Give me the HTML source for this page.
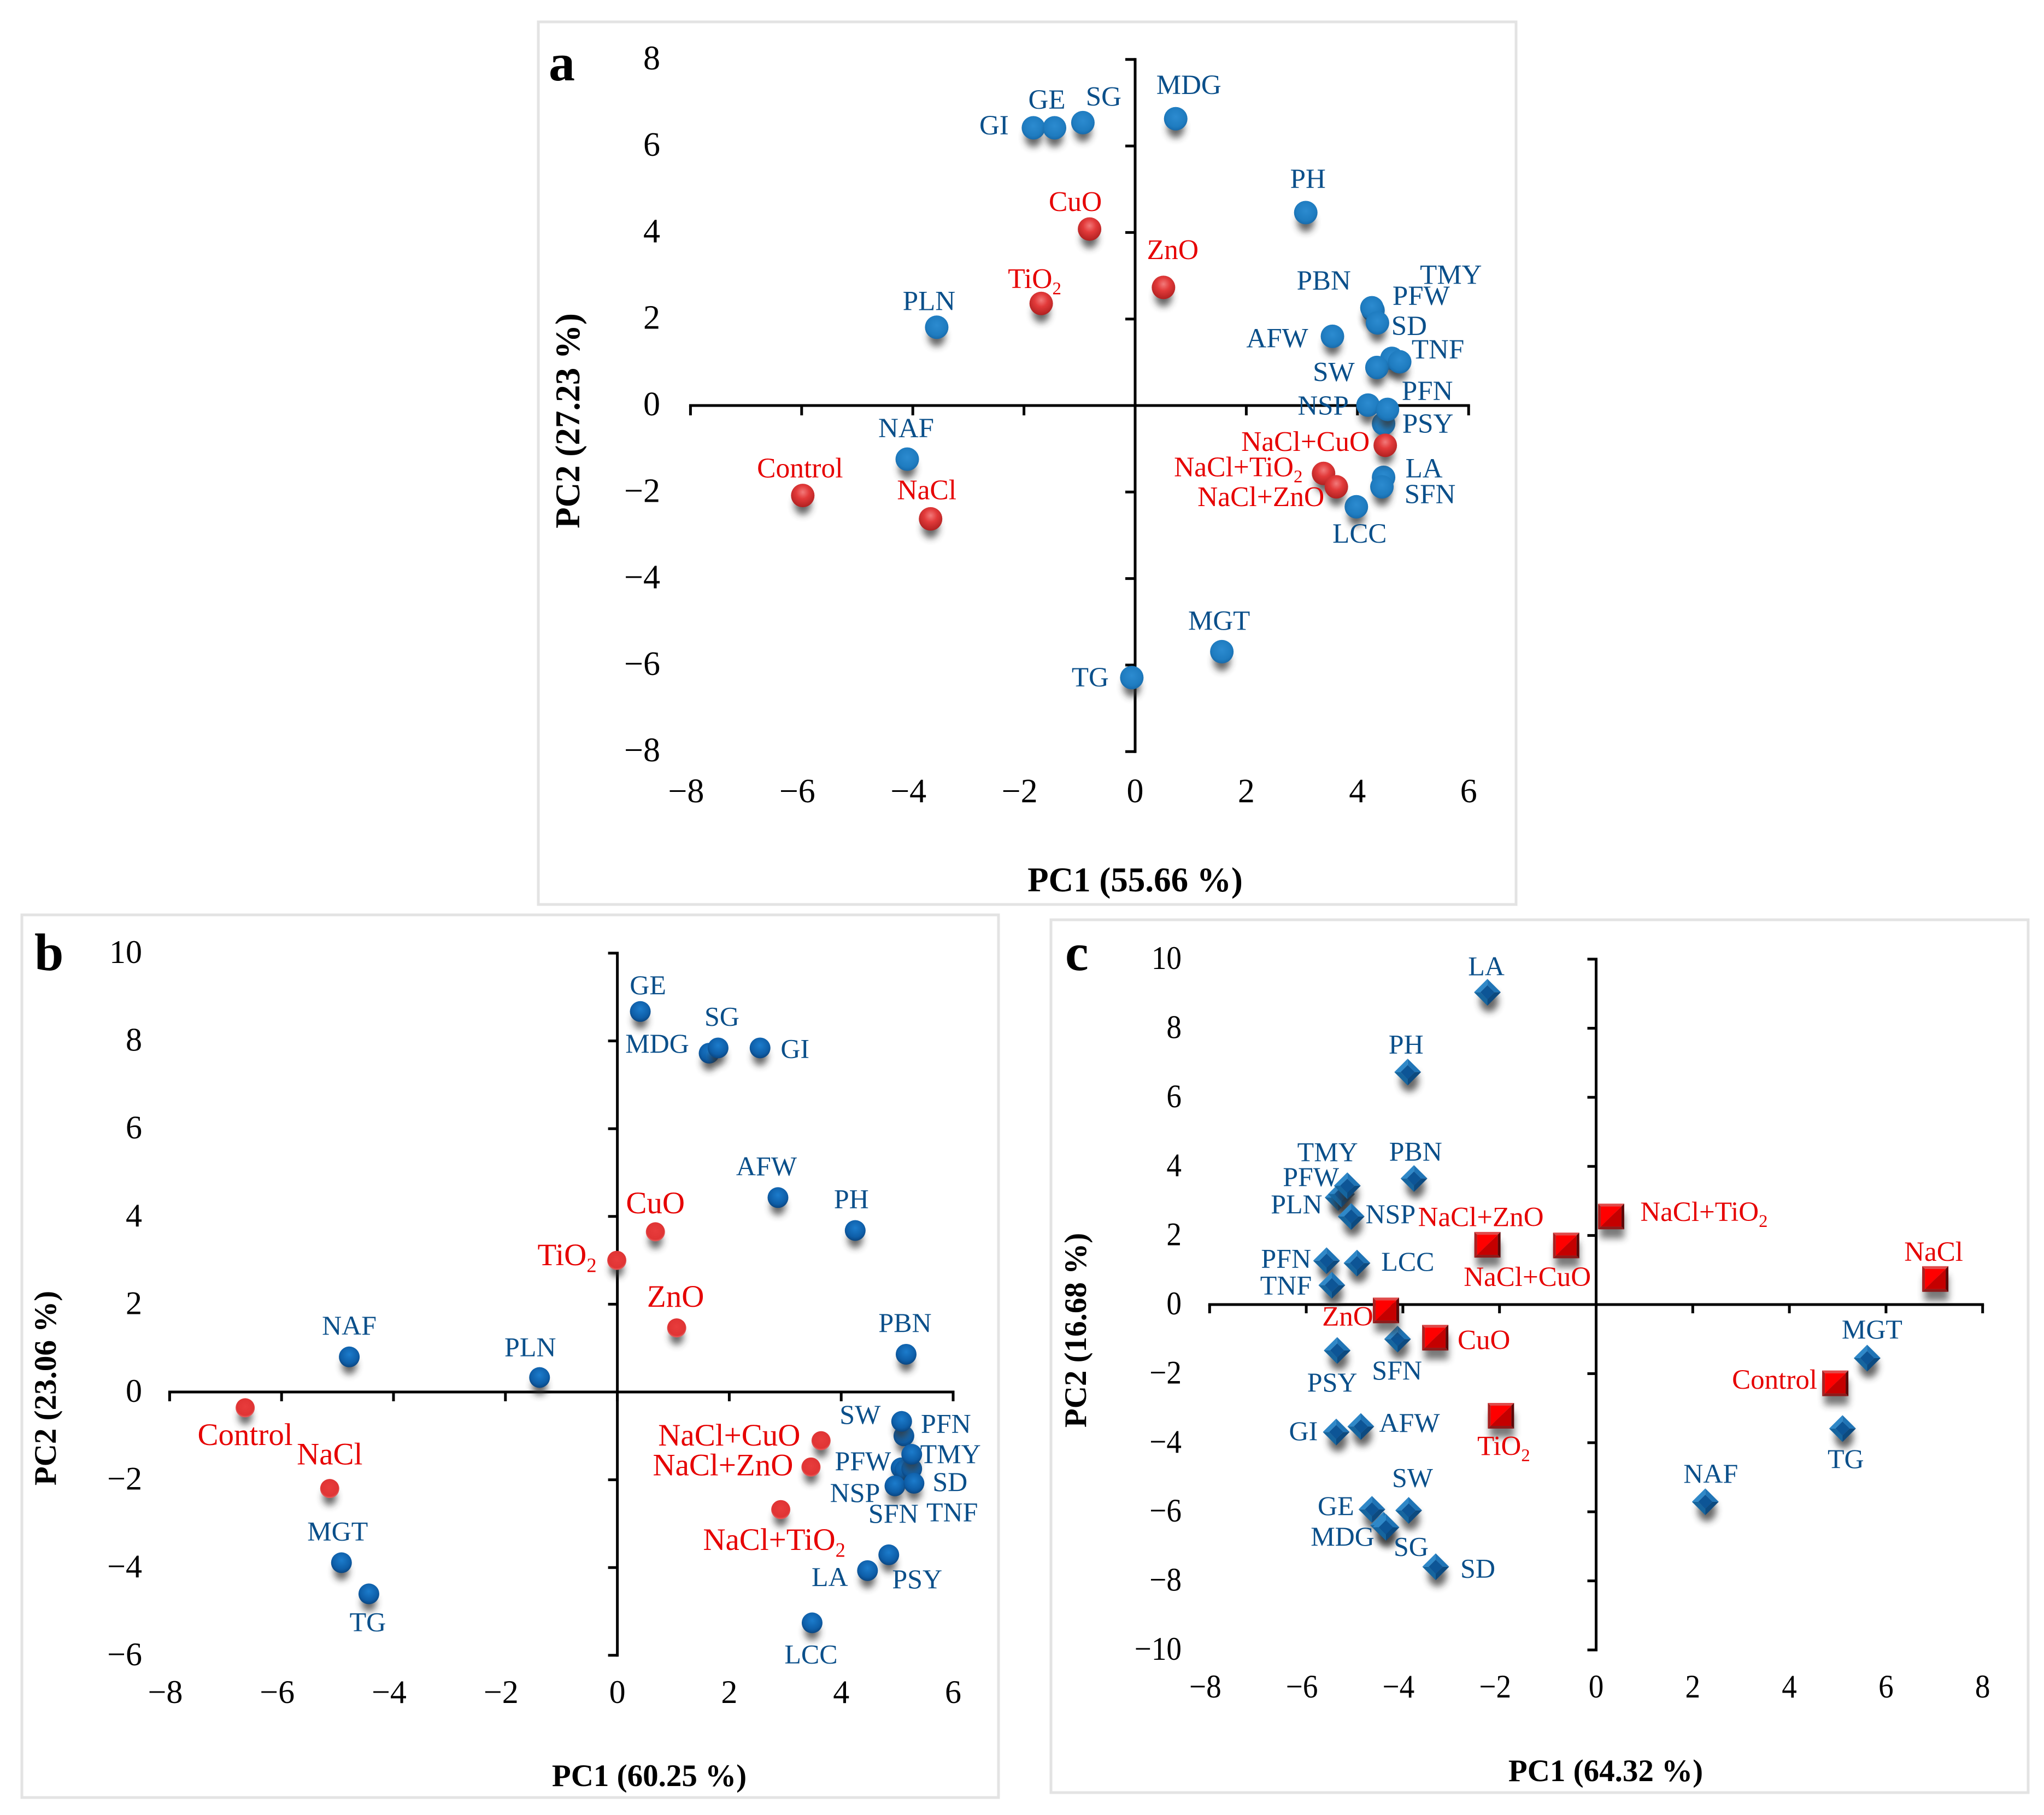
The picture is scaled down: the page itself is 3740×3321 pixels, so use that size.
<!DOCTYPE html>
<html lang="en">
<head>
<meta charset="utf-8">
<title>PCA biplots</title>
<style>
html,body{margin:0;padding:0;background:#fff;}
svg{display:block;}
text{font-family:"Liberation Serif","Times New Roman",serif;}
</style>
</head>
<body>
<svg id="figure" xmlns="http://www.w3.org/2000/svg" width="3740" height="3321" viewBox="0 0 3740 3321">
  <defs>
    <filter id="soft" x="-80%" y="-80%" width="260%" height="260%"><feGaussianBlur stdDeviation="6.5"/></filter>
    <radialGradient id="blueA" cx="50%" cy="42%" r="60%"><stop offset="0" stop-color="#2c8bd0"/><stop offset=".7" stop-color="#1f7cc0"/><stop offset="1" stop-color="#1768a8"/></radialGradient>
    <radialGradient id="redA" cx="50%" cy="36%" r="62%"><stop offset="0" stop-color="#f27a7a"/><stop offset=".45" stop-color="#e23a3a"/><stop offset="1" stop-color="#b32222"/></radialGradient>
    <radialGradient id="blueB" cx="50%" cy="38%" r="62%"><stop offset="0" stop-color="#1c7ccc"/><stop offset=".7" stop-color="#0e5ea8"/><stop offset="1" stop-color="#0a4580"/></radialGradient>
    <radialGradient id="redB" cx="50%" cy="45%" r="55%"><stop offset="0" stop-color="#e83c3c"/><stop offset=".8" stop-color="#e03434"/><stop offset="1" stop-color="#e66060"/></radialGradient>
  </defs>
  <rect x="985" y="40" width="1789" height="1615" fill="#fff" stroke="#e3e3e3" stroke-width="5"/>
  <rect x="40" y="1674" width="1787" height="1615" fill="#fff" stroke="#e3e3e3" stroke-width="5"/>
  <rect x="1923" y="1683" width="1788" height="1597" fill="#fff" stroke="#e3e3e3" stroke-width="5"/>
  <g id="panel-a"></g>
  <g id="panel-b"></g>
  <g id="panel-c"></g>
</svg>
<script>
// ---------- Panel a ----------
const aXTicks = [-8, -6, -4, -2, 0, 2, 4, 6];
const aYTicks = [8, 6, 4, 2, 0, -2, -4, -6, -8];
const aTraits = ['GI','GE','SG','MDG','PH','PLN','NAF','TG','MGT','AFW','TMY','PFW','PBN','SD','SW','TNF','PSY','NSP','PFN','LA','SFN','LCC'];
const aTraitPc1 = [-1.83,-1.45,-0.94,0.73,3.07,-3.57,-4.10,-0.06,1.56,3.55,4.62,4.28,4.26,4.36,4.35,4.76,4.47,4.19,4.54,4.47,4.44,3.98];
const aTraitPc2 = [6.42,6.42,6.54,6.63,4.46,1.81,-1.24,-6.29,-5.69,1.60,1.09,2.20,2.26,1.91,0.88,1.01,-0.42,0.01,-0.09,-1.66,-1.88,-2.34];
const aTreatments = ['CuO','ZnO','TiO2','Control','NaCl','NaCl+CuO','NaCl+TiO2','NaCl+ZnO'];
const aTreatPc1 = [-0.82,0.51,-1.69,-5.98,-3.68,4.50,3.39,3.62];
const aTreatPc2 = [4.08,2.73,2.36,-2.08,-2.62,-0.92,-1.57,-1.88];

// ---------- Panel b ----------
const bXTicks = [-8, -6, -4, -2, 0, 2, 4, 6];
const bYTicks = [10, 8, 6, 4, 2, 0, -2, -4, -6];
const bTraits = ['GE','MDG','SG','GI','AFW','PH','PBN','NAF','PLN','MGT','TG','PFN','SW','SFN','PFW','TNF','TMY','NSP','SD','PSY','LA','LCC'];
const bTraitPc1 = [0.41,1.64,1.80,2.55,2.87,4.25,5.16,-4.79,-1.39,-4.93,-4.44,5.12,5.08,5.07,5.14,5.26,5.26,4.96,5.30,4.85,4.47,3.48];
const bTraitPc2 = [8.67,7.72,7.84,7.84,4.43,3.68,0.86,0.80,0.33,-3.89,-4.60,-1.00,-0.67,-1.73,-1.77,-1.75,-1.42,-2.14,-2.08,-3.71,-4.07,-5.26];
const bTreatments = ['CuO','TiO2','ZnO','Control','NaCl','NaCl+CuO','NaCl+ZnO','NaCl+TiO2'];
const bTreatPc1 = [0.68,-0.01,1.06,-6.65,-5.14,3.64,3.46,2.92];
const bTreatPc2 = [3.65,3.00,1.46,-0.36,-2.20,-1.11,-1.71,-2.68];

// ---------- Panel c ----------
const cXTicks = [-8, -6, -4, -2, 0, 2, 4, 6, 8];
const cYTicks = [10, 8, 6, 4, 2, 0, -2, -4, -6, -8, -10];
const cTraits = ['LA','PH','PBN','PLN','PFW','TMY','NSP','PFN','LCC','TNF','SFN','PSY','GI','AFW','SW','GE','MDG','SG','SD','MGT','TG','NAF'];
const cTraitPc1 = [-2.25,-3.90,-3.77,-5.34,-5.27,-5.15,-5.07,-5.58,-4.95,-5.47,-4.11,-5.36,-5.38,-4.87,-3.88,-4.64,-4.40,-4.35,-3.32,5.61,5.10,2.26];
const cTraitPc2 = [9.04,6.73,3.65,3.10,3.20,3.44,2.55,1.27,1.20,0.56,-1.00,-1.33,-3.69,-3.53,-5.96,-5.93,-6.39,-6.45,-7.59,-1.55,-3.59,-5.71];
const cTreatments = ['NaCl+ZnO','NaCl+CuO','NaCl+TiO2','NaCl','ZnO','CuO','TiO2','Control'];
const cTreatPc1 = [-2.25,-0.62,0.31,7.02,-4.35,-3.33,-1.97,4.95];
const cTreatPc2 = [1.73,1.71,2.55,0.74,-0.17,-0.96,-3.22,-2.28];

// Label placement relative to each mark (layout only, not data)
const labelNudgeA = {GI:[-72,12],GE:[-14,-35],SG:[38,-31],MDG:[24,-45],PH:[4,-45],PLN:[-14,-31],NAF:[-2,-40],TG:[-76,16],MGT:[-5,-40],
  CuO:[-26,-33],ZnO:[17,-52],TiO2:[-12,-28],Control:[-5,-33],NaCl:[-7,-36],PBN:[-88,-33],TMY:[108,-136],PFW:[88,-10],SD:[58,22],AFW:[-101,20],
  TNF:[70,-6],SW:[-79,25],PFN:[73,-17],NSP:[-82,18],PSY:[81,17],'NaCl+CuO':[-146,10],'NaCl+TiO2':[-156,5],'NaCl+ZnO':[-138,35],LA:[74,0],SFN:[88,30],LCC:[6,66]};
const labelNudgeB = {SW:[-76,4],PFN:[77,-6],TMY:[71,16],PFW:[-77,1],SD:[66,14],NSP:[-73,29],SFN:[-14,100],TNF:[74,96],'NaCl+CuO':[-168,9],'NaCl+ZnO':[-161,15],
  'NaCl+TiO2':[-12,74],PSY:[52,61],LA:[-69,28],LCC:[-2,74],PBN:[-2,-41],PH:[-7,-41],AFW:[-21,-41],GE:[14,-32],SG:[7,-41],MDG:[-95,-1],GI:[64,18],
  CuO:[0,-34],TiO2:[-91,9],ZnO:[-2,-39],NAF:[0,-41],PLN:[-17,-39],Control:[0,68],NaCl:[0,-44],MGT:[-7,-41],TG:[-2,68]};
const labelNudgeC = {LA:[-2,-31],PH:[-3,-34],PBN:[3,-33],TMY:[-36,-45],PFW:[-56,-15],PLN:[-76,29],NSP:[72,12],'NaCl+ZnO':[-12,-34],'NaCl+CuO':[-71,74],PFN:[-74,13],
  LCC:[93,14],TNF:[-84,17],ZnO:[-70,28],CuO:[89,21],SFN:[-1,74],PSY:[-9,75],GI:[-60,15],AFW:[89,10],TiO2:[5,72],SW:[7,-43],GE:[-66,10],MDG:[-75,37],SG:[46,52],SD:[77,20],
  'NaCl+TiO2':[170,8],NaCl:[-3,-33],MGT:[9,-36],Control:[-111,10],TG:[6,72],NAF:[10,-35]};

const NS = 'http://www.w3.org/2000/svg';
const BLUE = '#0a4f8a', RED = '#e60000';

function make(tag, attrs, parent) {
  const node = document.createElementNS(NS, tag);
  for (const k in attrs) node.setAttribute(k, attrs[k]);
  parent.appendChild(node);
  return node;
}
function slug(s) { return s.toLowerCase().replace(/[^a-z0-9]+/g, '-'); }

function drawLabel(parent, name, x, y, size, color) {
  const t = make('text', {x: x, y: y, 'font-size': size, fill: color, 'text-anchor': 'middle'}, parent);
  
  
  if (/TiO2$/.test(name)) {
    t.appendChild(document.createTextNode(name.slice(0, -1)));
    const sub = make('tspan', {'font-size': size * 0.64, dy: size * 0.22}, t);
    sub.textContent = '2';
  } else {
    t.textContent = name;
  }
}

function drawSphere(parent, cx, cy, r, fill, name, shadowDy) {
  const g = make('g', {}, parent);
  
  
  make('ellipse', {cx: cx, cy: cy + shadowDy, rx: r * 0.72, ry: r * 0.85, fill: '#333', opacity: 0.75, filter: 'url(#soft)'}, g);
  make('circle', {cx: cx, cy: cy, r: r, fill: fill}, g);
}

function drawDiamond(parent, cx, cy, name) {
  const r = 24.5, i = 13;
  const g = make('g', {}, parent);
  
  
  make('ellipse', {cx: cx + 3, cy: cy + 16, rx: 17, ry: 20, fill: '#333', opacity: 0.75, filter: 'url(#soft)'}, g);
  const pts = (a) => a.map(p => (cx + p[0]) + ',' + (cy + p[1])).join(' ');
  make('polygon', {points: pts([[0,-r],[-r,0],[-i,0],[0,-i]]), fill: '#2f88c8'}, g);
  make('polygon', {points: pts([[0,-r],[r,0],[i,0],[0,-i]]), fill: '#1f74b6'}, g);
  make('polygon', {points: pts([[r,0],[0,r],[0,i],[i,0]]), fill: '#0c4a80'}, g);
  make('polygon', {points: pts([[-r,0],[0,r],[0,i],[-i,0]]), fill: '#15659f'}, g);
  make('polygon', {points: pts([[0,-i],[i,0],[0,i],[-i,0]]), fill: '#0d5596'}, g);
}

function drawSquare(parent, cx, cy, name) {
  const w = 24, h = 23.5, e = 5;
  const g = make('g', {}, parent);
  
  
  make('rect', {x: cx - 20, y: cy - 6, width: 44, height: 46, fill: '#333', opacity: 0.65, filter: 'url(#soft)'}, g);
  const pts = (a) => a.map(p => (cx + p[0]) + ',' + (cy + p[1])).join(' ');
  make('polygon', {points: pts([[-w,-h],[w,-h],[w-e,-h+e],[-w+e,-h+e]]), fill: '#e04a4a'}, g);
  make('polygon', {points: pts([[w,-h],[w,h],[w-e,h-e],[w-e,-h+e]]), fill: '#5a0808'}, g);
  make('polygon', {points: pts([[w,h],[-w,h],[-w+e,h-e],[w-e,h-e]]), fill: '#8e1a1a'}, g);
  make('polygon', {points: pts([[-w,h],[-w,-h],[-w+e,-h+e],[-w+e,h-e]]), fill: '#a82020'}, g);
  make('polygon', {points: pts([[-w+e,-h+e],[w-e,-h+e],[-w+e,h-e]]), fill: '#ff0000'}, g);
  make('polygon', {points: pts([[w-e,-h+e],[w-e,h-e],[-w+e,h-e]]), fill: '#c40000'}, g);
}

function drawPanel(cfg) {
  const root = document.getElementById(cfg.id);
  const X = v => cfg.x0 + v * cfg.ux;
  const Y = v => cfg.y0 - v * cfg.uy;
  const pre = cfg.key + '-';

  // axes
  const xMin = Math.min(...cfg.xTicks), xMax = Math.max(...cfg.xTicks);
  const yMin = Math.min(...cfg.yTicks), yMax = Math.max(...cfg.yTicks);
  const xAxis = make('line', {x1: X(xMin) - 2.5, x2: X(xMax) + 2.5, y1: Y(0), y2: Y(0), stroke: '#000', 'stroke-width': 5}, root);
  
  
  const yAxis = make('line', {x1: X(0), x2: X(0), y1: Y(yMax) - 2.5, y2: Y(yMin) + 2.5, stroke: '#000', 'stroke-width': 5}, root);
  
  

  cfg.xTicks.forEach(v => {
    const tick = make('line', {x1: X(v), x2: X(v), y1: Y(0), y2: Y(0) + cfg.tick, stroke: '#000', 'stroke-width': 5}, root);
    
    
    const lx = X(v) - (v < 0 ? 8 : 0);
    const t = make('text', {transform: 'translate(' + lx + ',' + cfg.xLabelY + ') scale(' + cfg.digitSx + ',1)', 'font-size': cfg.digit, 'text-anchor': 'middle', fill: '#000'}, root);
    
    
    t.textContent = String(v).replace('-', '\u2212');
  });
  cfg.yTicks.forEach(v => {
    const tick = make('line', {x1: X(0) - cfg.tick, x2: X(0), y1: Y(v), y2: Y(v), stroke: '#000', 'stroke-width': 5}, root);
    
    
    const t = make('text', {transform: 'translate(' + cfg.yLabelX + ',' + (Y(v) + 18) + ') scale(' + cfg.digitSx + ',1)', 'font-size': cfg.digit, 'text-anchor': 'end', fill: '#000'}, root);
    
    
    t.textContent = String(v).replace('-', '\u2212');
  });

  // marks
  const marks = make('g', {}, root);
  
  
  cfg.traits.forEach((n, i) => {
    const cx = X(cfg.traitX[i]), cy = Y(cfg.traitY[i]);
    if (cfg.key === 'c') drawDiamond(marks, cx, cy, n);
    else drawSphere(marks, cx, cy, cfg.rBlue, cfg.blueFill, n, cfg.shadow);
  });
  cfg.treats.forEach((n, i) => {
    const cx = X(cfg.treatX[i]), cy = Y(cfg.treatY[i]);
    if (cfg.key === 'c') drawSquare(marks, cx, cy, n);
    else drawSphere(marks, cx, cy, cfg.rRed, cfg.redFill, n, cfg.shadow);
  });

  // labels
  cfg.traits.forEach((n, i) => {
    const d = cfg.nudge[n] || [0, -30];
    drawLabel(root, n, X(cfg.traitX[i]) + d[0], Y(cfg.traitY[i]) + d[1], cfg.labelSize, BLUE);
  });
  cfg.treats.forEach((n, i) => {
    const d = cfg.nudge[n] || [0, -30];
    drawLabel(root, n, X(cfg.treatX[i]) + d[0], Y(cfg.treatY[i]) + d[1], cfg.treatLabelSize, RED);
  });

  // titles
  const xt = make('text', {x: cfg.xTitle[0], y: cfg.xTitle[1], 'font-size': cfg.titleSize, 'font-weight': 'bold', 'text-anchor': 'middle', fill: '#000'}, root);
  
  
  xt.textContent = cfg.xTitleText;
  const yt = make('text', {transform: 'translate(' + cfg.yTitle[0] + ',' + cfg.yTitle[1] + ') rotate(-90)', 'font-size': cfg.titleSize, 'font-weight': 'bold', 'text-anchor': 'middle', fill: '#000'}, root);
  
  
  yt.textContent = cfg.yTitleText;
  const letter = make('text', {x: cfg.letter[0], y: cfg.letter[1], 'font-size': 96, 'font-weight': 'bold', fill: '#000'}, root);
  
  
  letter.textContent = cfg.key;
}

drawPanel({id:'panel-a', key:'a', x0:2077, ux:101.7, y0:742, uy:79.15, tick:18,
  xTicks:aXTicks, yTicks:aYTicks, xLabelY:1468, yLabelX:1208, digit:62, digitSx:1,
  traits:aTraits, traitX:aTraitPc1, traitY:aTraitPc2, treats:aTreatments, treatX:aTreatPc1, treatY:aTreatPc2,
  rBlue:21.5, rRed:21.5, blueFill:'url(#blueA)', redFill:'url(#redA)', shadow:17, nudge:labelNudgeA, labelSize:51, treatLabelSize:51.5,
  titleSize:63, xTitle:[2077,1631], xTitleText:'PC1 (55.66 %)', yTitle:[1060,770], yTitleText:'PC2 (27.23 %)', letter:[1004,147]});

drawPanel({id:'panel-b', key:'b', x0:1129.6, ux:102.4, y0:2547, uy:80.3, tick:17,
  xTicks:bXTicks, yTicks:bYTicks, xLabelY:3116, yLabelX:260, digit:60, digitSx:1,
  traits:bTraits, traitX:bTraitPc1, traitY:bTraitPc2, treats:bTreatments, treatX:bTreatPc1, treatY:bTreatPc2,
  rBlue:19, rRed:17.5, blueFill:'url(#blueB)', redFill:'url(#redB)', shadow:16, nudge:labelNudgeB, labelSize:50, treatLabelSize:57,
  titleSize:57, xTitle:[1188,3268], xTitleText:'PC1 (60.25 %)', yTitle:[102,2540], yTitleText:'PC2 (23.06 %)', letter:[63,1775]});

drawPanel({id:'panel-c', key:'c', x0:2920.5, ux:88.4, y0:2387, uy:63.2, tick:16,
  xTicks:cXTicks, yTicks:cYTicks, xLabelY:3106, yLabelX:2162, digit:60, digitSx:0.92,
  traits:cTraits, traitX:cTraitPc1, traitY:cTraitPc2, treats:cTreatments, treatX:cTreatPc1, treatY:cTreatPc2,
  nudge:labelNudgeC, labelSize:50, treatLabelSize:51,
  titleSize:57, xTitle:[2938,3259], xTitleText:'PC1 (64.32 %)', yTitle:[1987,2434], yTitleText:'PC2 (16.68 %)', letter:[1949,1775]});
</script>
</body>
</html>
